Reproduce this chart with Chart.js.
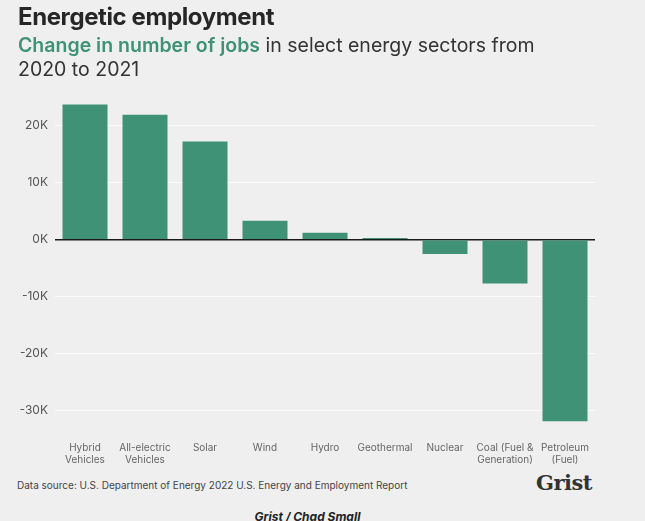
<!DOCTYPE html>
<html>
<head>
<meta charset="utf-8">
<script src="https://cdn.jsdelivr.net/npm/chart.js@4/dist/chart.umd.min.js"></script>
<style>
  html, body { margin: 0; padding: 0; background: #efefef; }
  body { width: 645px; height: 521px; position: relative; overflow: hidden; font-family: Inter, "Noto Sans", sans-serif; }
  #title { position: absolute; left: 18px; top: 2px; font-size: 24px; font-weight: 700; color: #262626; letter-spacing: -0.4px; }
  #subtitle { position: absolute; left: 18px; top: 33px; font-size: 19.5px; line-height: 24px; color: #333; width: 545px; }
  #subtitle b { color: #3f9275; font-weight: 600; }
  #wrap { position: absolute; left: 0; top: 0; width: 645px; height: 470px; }
  #source { position: absolute; left: 17px; top: 479px; font-size: 10px; color: #444; }
  #logo { position: absolute; left: 536px; top: 470px; font-family: "DejaVu Serif", "Liberation Serif", serif; font-size: 21px; font-weight: 700; color: #333; letter-spacing: -0.5px; }
  #credit { position: absolute; left: 0; width: 615px; text-align: center; top: 509px; font-size: 12px; font-weight: 700; font-style: italic; color: #222; }
</style>
</head>
<body>
<div id="wrap"><canvas id="chart"></canvas></div>
<div id="title">Energetic employment</div>
<div id="subtitle"><b>Change in number of jobs</b> in select energy sectors from 2020 to 2021</div>
<div id="source">Data source: U.S. Department of Energy 2022 U.S. Energy and Employment Report</div>
<div id="logo">Grist</div>
<div id="credit">Grist / Chad Small</div>
<script>
// Sectors and job change, 2020 -> 2021
const categories = [
  ['Hybrid', 'Vehicles'],
  ['All-electric', 'Vehicles'],
  'Solar',
  'Wind',
  'Hydro',
  'Geothermal',
  'Nuclear',
  ['Coal (Fuel &', 'Generation)'],
  ['Petroleum', '(Fuel)']
];
const jobChange = [23700, 21900, 17200, 3300, 1200, 300, -2500, -7700, -31800];
const yTicks = [-30000, -20000, -10000, 0, 10000, 20000];

const green = '#3f9275';

new Chart(document.getElementById('chart'), {
  type: 'bar',
  data: {
    labels: categories,
    datasets: [{
      data: jobChange,
      backgroundColor: green,
      categoryPercentage: 1,
      barPercentage: 0.75
    }]
  },
  options: {
    responsive: true,
    maintainAspectRatio: false,
    animation: false,
    layout: { padding: { top: 97, right: 50, left: 0, bottom: 0 } },
    plugins: { legend: { display: false }, tooltip: { enabled: false } },
    scales: {
      x: {
        grid: { display: false },
        border: { display: false },
        ticks: {
          color: '#666',
          font: { family: 'Inter', size: 10 },
          padding: 6,
          maxRotation: 0,
          autoSkip: false
        },
        afterFit: s => { s.height = 42; }
      },
      y: {
        min: -33000,
        max: 25000,
        afterBuildTicks: s => { s.ticks = yTicks.map(v => ({ value: v })); },
        border: { display: false },
        grid: {
          color: ctx => ctx.tick && ctx.tick.value === 0 ? '#1a1a1a' : '#fbfbfb',
          lineWidth: ctx => ctx.tick && ctx.tick.value === 0 ? 1.5 : 1,
          drawTicks: false
        },
        ticks: {
          color: '#555',
          font: { family: 'Inter', size: 12 },
          padding: 7,
          callback: v => (v / 1000) + 'K'
        },
        afterFit: s => { s.width = 55; }
      }
    }
  }
});
</script>
</body>
</html>
